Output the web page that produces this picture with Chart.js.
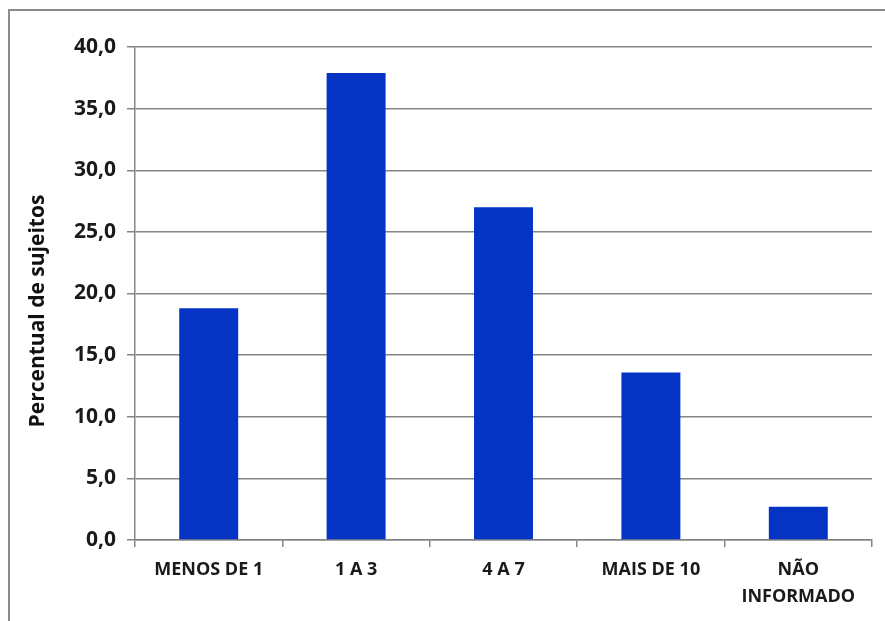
<!DOCTYPE html>
<html>
<head>
<meta charset="utf-8">
<script src="https://cdn.jsdelivr.net/npm/chart.js@4/dist/chart.umd.min.js"></script>
<style>
  html, body { margin: 0; padding: 0; background: #fff; }
  #wrap { position: relative; width: 885px; height: 621px; overflow: hidden; }
  #frame { position: absolute; left: 8px; top: 9px; width: 900px; height: 700px;
           border-left: 2px solid #8c8c8c; border-top: 2px solid #8c8c8c; }
  canvas { position: absolute; left: 0; top: 0; }
</style>
</head>
<body>
<div id="wrap">
  <div id="frame"></div>
  <canvas id="c" width="885" height="621"></canvas>
</div>
<script>
const categories = ["MENOS DE 1", "1 A 3", "4 A 7", "MAIS DE 10", ["NÃO", "INFORMADO"]];
const percentages = [18.8, 37.9, 27.0, 13.6, 2.7];
const yTitle = "Percentual de sujeitos";

const fontFamily = "'Open Sans', Lato, sans-serif";
const axisGray = "#858585";

// rotated y-axis title, drawn by hand so it sits where the original does
const yTitlePlugin = {
  id: "yTitle",
  afterDraw(chart) {
    const { ctx } = chart;
    ctx.save();
    ctx.translate(38, 311);
    ctx.rotate(-Math.PI / 2);
    ctx.font = `bold 21px ${fontFamily}`;
    ctx.fillStyle = "#111";
    ctx.textAlign = "center";
    ctx.textBaseline = "middle";
    ctx.fillText(yTitle, 0, 0);
    ctx.restore();
  }
};

new Chart(document.getElementById("c").getContext("2d"), {
  type: "bar",
  data: {
    labels: categories,
    datasets: [{
      data: percentages,
      backgroundColor: "#0534c4",
      borderWidth: 0,
      barPercentage: 0.4,
      categoryPercentage: 1.0
    }]
  },
  plugins: [yTitlePlugin],
  options: {
    responsive: false,
    animation: false,
    devicePixelRatio: 1,
    layout: { padding: { left: 0, top: 47, right: 13, bottom: 0 } },
    plugins: { legend: { display: false }, tooltip: { enabled: false } },
    scales: {
      x: {
        grid: {
          offset: true,
          drawOnChartArea: false,
          drawTicks: true,
          tickLength: 7,
          color: axisGray,
          lineWidth: 1.5
        },
        border: { color: axisGray, width: 1.5 },
        ticks: {
          color: "#1a1a1a",
          padding: 9,
          maxRotation: 0,
          autoSkip: false,
          font: { family: fontFamily, weight: "bold", size: 18, lineHeight: 1.5 }
        },
        afterFit: (scale) => { scale.height = 81; }
      },
      y: {
        min: 0,
        max: 40,
        ticks: {
          stepSize: 5,
          color: "#1a1a1a",
          padding: 11,
          font: { family: fontFamily, weight: "bold", size: 21 },
          callback: (v) => v.toFixed(1).replace(".", ",")
        },
        grid: { color: axisGray, lineWidth: 1.5, tickLength: 8 },
        border: { color: axisGray, width: 1.5 },
        afterFit: (scale) => { scale.width = 135; }
      }
    }
  }
});
</script>
</body>
</html>
